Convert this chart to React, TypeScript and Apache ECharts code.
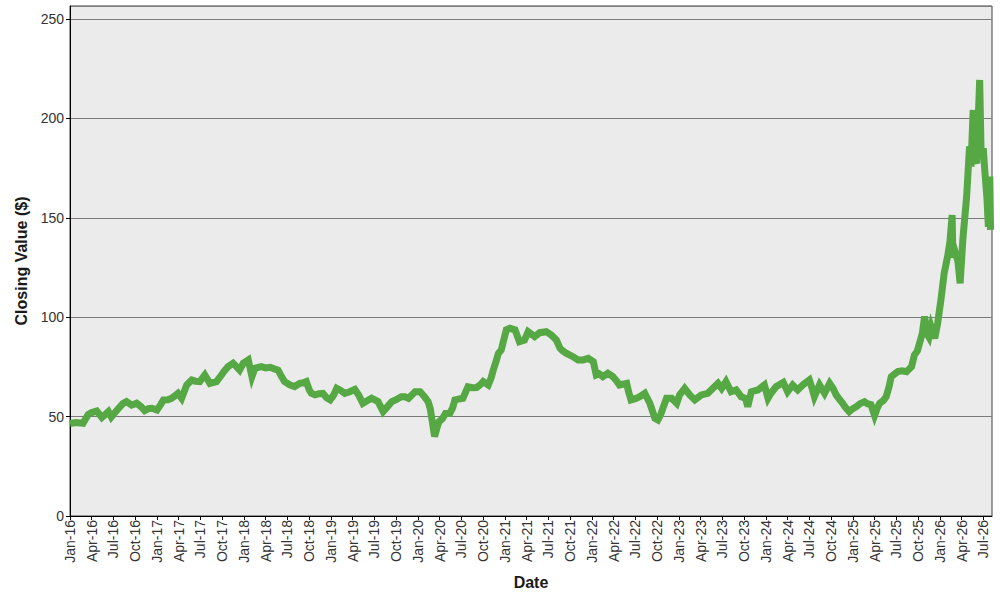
import React, { useEffect, useRef } from "react";
import * as echarts from "echarts";

// months since Jan 2016
const months: number[] = [
  0.0, 0.8, 1.8, 2.5, 3.0, 3.7, 4.4, 5.0, 5.3, 5.7, 6.2, 6.7, 7.3, 7.8, 8.5, 9.2, 9.8, 10.3, 10.8, 11.3,
  12.0, 12.5, 12.9, 13.5, 14.0, 14.5, 14.9, 15.4, 15.8, 16.1, 16.8, 17.3, 17.9, 18.6, 19.3, 20.2, 20.9, 21.3, 21.8, 22.5,
  23.0, 23.4, 23.9, 24.6, 25.1, 25.5, 26.4, 27.0, 27.6, 28.2, 28.7, 29.2, 29.6, 30.3, 31.0, 31.7, 32.2, 32.6, 33.0, 33.3,
  33.8, 34.4, 34.9, 35.4, 35.9, 36.4, 36.8, 37.4, 37.9, 38.6, 39.3, 39.8, 40.4, 41.0, 41.6, 42.0, 42.5, 43.2, 43.8, 44.4,
  45.0, 45.7, 46.2, 46.7, 47.2, 47.6, 48.3, 48.9, 49.4, 49.7, 50.0, 50.3, 50.6, 50.9, 51.4, 51.8, 52.4, 52.8, 53.1, 53.6,
  54.2, 54.9, 55.5, 56.1, 56.6, 57.0, 57.7, 58.1, 58.4, 58.8, 59.1, 59.5, 59.8, 60.2, 60.7, 61.4, 62.0, 62.7, 63.2, 64.1,
  64.8, 65.7, 66.4, 67.1, 67.6, 68.0, 68.5, 69.4, 70.1, 70.8, 71.5, 72.2, 72.6, 73.0, 73.5, 74.2, 74.9, 75.4, 75.8, 76.8,
  77.1, 77.4, 78.0, 78.6, 79.3, 80.0, 80.7, 81.1, 81.5, 81.8, 82.3, 83.0, 83.7, 84.1, 84.8, 85.5, 86.2, 87.1, 88.0, 88.7,
  89.4, 89.9, 90.5, 91.2, 91.9, 92.6, 93.2, 93.5, 94.0, 94.9, 95.8, 96.3, 96.7, 97.4, 98.4, 99.0, 99.7, 100.4, 101.1, 102.0,
  102.4, 102.7, 103.4, 104.1, 104.8, 105.3, 105.7, 106.2, 106.6, 107.0, 107.5, 108.0, 108.5, 109.0, 109.6, 110.0, 110.5, 111.0, 111.4, 111.7,
  112.2, 112.6, 113.0, 113.3, 113.8, 114.2, 114.8, 115.4, 116.1, 116.5, 116.9, 117.2, 117.6, 117.9, 118.2, 118.5, 118.8, 119.3, 119.7, 120.2,
  120.6, 121.1, 121.4, 121.7, 121.8, 122.1, 122.5, 122.8, 123.2, 123.7, 124.1, 124.3, 124.6, 124.8, 125.1, 125.3, 125.5, 125.7, 126.0, 126.2,
  126.5, 126.7, 126.9, 127.0,
];

const closing: number[] = [
  46.5, 47.0, 46.6, 51.0, 52.0, 52.8, 49.6, 51.5, 52.5, 49.8, 52.0, 54.2, 56.5, 57.5, 55.8, 56.7, 55.0, 53.0, 54.0, 54.2,
  53.3, 56.0, 58.4, 58.5, 59.2, 60.5, 61.7, 59.2, 63.0, 65.9, 68.4, 67.8, 67.6, 70.9, 66.7, 67.6, 70.9, 73.0, 75.1, 76.8,
  75.0, 73.4, 76.8, 78.5, 70.1, 74.3, 75.1, 74.5, 74.8, 74.0, 73.4, 70.0, 67.6, 66.0, 65.1, 66.7, 67.0, 67.6, 63.5, 61.7,
  60.9, 61.5, 61.7, 59.5, 58.4, 61.0, 64.2, 63.0, 61.7, 62.5, 63.7, 61.0, 56.7, 58.0, 59.2, 58.5, 57.5, 52.5, 55.0, 57.5,
  58.5, 60.0, 60.0, 59.2, 61.0, 62.5, 62.5, 60.0, 57.5, 54.0, 47.0, 40.0, 44.0, 47.4, 49.0, 51.6, 51.6, 54.5, 58.4, 58.8,
  59.2, 65.0, 64.5, 64.6, 66.0, 67.6, 65.9, 69.5, 73.4, 78.0, 81.8, 83.5, 88.0, 93.6, 94.4, 93.6, 87.7, 88.5, 92.7, 90.2,
  92.2, 92.7, 91.0, 88.5, 84.4, 83.0, 81.8, 80.1, 78.5, 78.5, 79.3, 77.6, 70.9, 71.5, 70.1, 71.8, 70.1, 68.0, 65.9, 66.7,
  62.0, 58.4, 59.0, 60.0, 61.7, 56.7, 49.1, 48.3, 51.0, 54.2, 59.2, 59.2, 56.7, 60.9, 64.2, 60.9, 58.4, 60.9, 61.7, 64.2,
  66.7, 64.2, 67.6, 62.5, 63.4, 60.0, 59.2, 55.0, 62.5, 63.4, 65.9, 59.2, 61.7, 65.0, 67.2, 62.5, 65.9, 63.4, 65.9, 68.4,
  64.0, 60.0, 65.9, 61.7, 66.7, 64.0, 60.9, 58.4, 56.7, 54.5, 52.5, 54.0, 55.0, 56.5, 57.5, 56.5, 56.0, 50.5, 54.5, 56.7,
  58.0, 60.0, 65.0, 70.1, 71.5, 72.6, 73.0, 72.6, 75.1, 81.0, 83.0, 86.9, 92.0, 100.3, 91.9, 90.0, 95.2, 89.4, 96.9, 110.0,
  122.0, 131.0, 138.0, 151.4, 130.0, 133.0, 128.0, 117.0, 140.0, 160.6, 185.8, 175.7, 204.2, 180.0, 177.4, 200.0, 219.3, 182.4, 185.0, 174.0,
  160.0, 145.5, 170.7, 143.9,
];

const monthNames: string[] = ["Jan", "Feb", "Mar", "Apr", "May", "Jun", "Jul", "Aug", "Sep", "Oct", "Nov", "Dec"];
const startYear = 2016;
const yTicks: number[] = [0, 50, 100, 150, 200, 250];

export default function App() {
  const ref = useRef<HTMLDivElement>(null);
  useEffect(() => {
    if (!ref.current) return;
    const chart = echarts.init(ref.current, undefined, { renderer: "svg" });
    const data = months.map((m, i) => [m, closing[i]]);
    const font = "'Liberation Sans', Arial, sans-serif";
    chart.setOption({
      animation: false,
      backgroundColor: "#ffffff",
      grid: {
        left: 70,
        right: 8,
        top: 6,
        bottom: 84,
        show: true,
        backgroundColor: "#ebebeb",
        borderColor: "#404040",
        borderWidth: 1,
      },
      xAxis: {
        type: "value",
        min: 0,
        max: 127.2,
        interval: 3,
        name: "Date",
        nameLocation: "middle",
        nameGap: 58,
        nameTextStyle: { fontFamily: font, fontSize: 16, fontWeight: "bold", color: "#1a1a1a" },
        axisLine: { show: true, lineStyle: { color: "#000", width: 1 } },
        axisTick: { show: true, length: 4, lineStyle: { color: "#000" } },
        splitLine: { show: false },
        axisLabel: {
          rotate: 90,
          fontFamily: font,
          fontSize: 14,
          color: "#333",
          margin: 4,
          showMaxLabel: false,
          formatter: (v: number) => {
            const mi = Math.round(v);
            if (Math.abs(v - mi) > 0.01) return "";
            const y = startYear + Math.floor(mi / 12);
            return monthNames[mi % 12] + "-" + String(y % 100).padStart(2, "0");
          },
        },
      },
      yAxis: {
        type: "value",
        min: 0,
        max: 256.5,
        interval: 50,
        name: "Closing Value ($)",
        nameLocation: "middle",
        nameGap: 41,
        nameTextStyle: { fontFamily: font, fontSize: 16, fontWeight: "bold", color: "#1a1a1a" },
        axisLine: { show: true, lineStyle: { color: "#000", width: 1 } },
        axisTick: { show: true, length: 4, lineStyle: { color: "#000" } },
        splitLine: { show: true, lineStyle: { color: "#7a7a7a", width: 1 } },
        axisLabel: {
          fontFamily: font,
          fontSize: 14,
          color: "#333",
          margin: 6,
          showMaxLabel: false,
          formatter: (v: number) => (yTicks.includes(v) ? String(v) : ""),
        },
      },
      series: [
        {
          type: "line",
          data,
          showSymbol: false,
          symbol: "none",
          lineStyle: { color: "#55a843", width: 7, join: "miter", cap: "butt" },
          itemStyle: { color: "#55a843" },
        },
      ],
    });
    return () => chart.dispose();
  }, []);
  return <div ref={ref} style={{ position: "fixed", left: 0, top: 0, width: 1000, height: 600 }} />;
}
